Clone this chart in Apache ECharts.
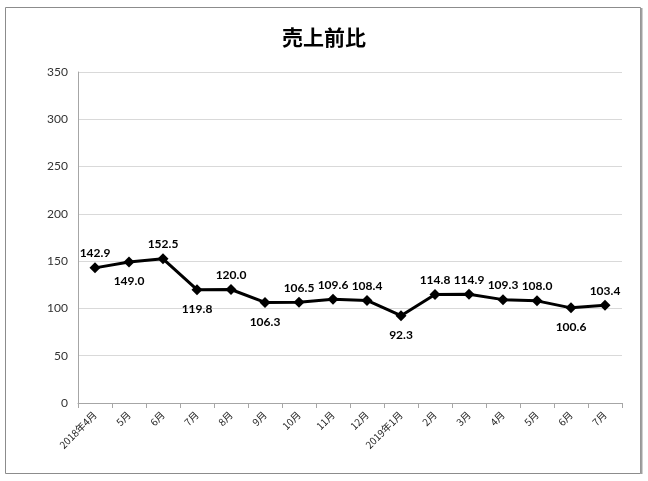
<!DOCTYPE html>
<html><head><meta charset="utf-8">
<script src="https://cdn.jsdelivr.net/npm/echarts@6/dist/echarts.min.js"></script>
<style>html,body{margin:0;padding:0;background:#fff}#c{width:648px;height:481px}</style>
</head><body><div id="c"></div>
<script>
const categories = ['2018年4月','5月','6月','7月','8月','9月','10月','11月','12月','2019年1月','2月','3月','4月','5月','6月','7月'];
const values = [142.9,149.0,152.5,119.8,120.0,106.3,106.5,109.6,108.4,92.3,114.8,114.9,109.3,108.0,100.6,103.4];
const labelPos = ['top','bottom','top','bottom','top','bottom','top','top','top','bottom','top','top','top','top','bottom','top'];
const yTicks = [0,50,100,150,200,250,300,350];

const chart = echarts.init(document.getElementById('c'));
chart.setOption({
  animation:false,
  backgroundColor:'#fff',
  graphic:[{type:'rect',shape:{x:5.5,y:7.5,width:635,height:466},style:{fill:'none',stroke:'#8c8c8c',lineWidth:1}},
           {type:'line',shape:{x1:641.5,y1:8,x2:641.5,y2:474},style:{stroke:'#a0a0a0',lineWidth:2}}],
  title:{text:'売上前比',left:'center',top:22,textStyle:{fontFamily:'Noto Sans CJK JP',fontWeight:'bold',fontSize:21,color:'#000'}},
  grid:{left:78,right:26,top:72,bottom:78},
  xAxis:{type:'category',data:categories,boundaryGap:true,
    axisLine:{lineStyle:{color:'#a6a6a6'}},axisTick:{show:true,alignWithLabel:false,lineStyle:{color:'#a6a6a6'}},
    axisLabel:{rotate:45,interval:0,fontSize:10,color:'#222',fontFamily:'Noto Sans CJK JP',margin:10}},
  yAxis:{type:'value',min:0,max:350,interval:50,
    axisLine:{show:true,lineStyle:{color:'#a6a6a6'}},axisTick:{show:false},
    splitLine:{lineStyle:{color:'#d9d9d9'}},
    axisLabel:{fontSize:12,color:'#333',fontFamily:'Lato',margin:10,formatter:v=>yTicks.includes(v)?String(v):''}},
  series:[{type:'line',data:values.map((v,i)=>({value:v,label:{position:labelPos[i],distance:labelPos[i]==='top'?3:8}})),
    lineStyle:{color:'#000',width:3},itemStyle:{color:'#000'},
    symbol:'diamond',symbolSize:11,
    label:{show:true,formatter:p=>p.value.toFixed(1),fontFamily:'Lato',fontWeight:'bold',fontSize:12,color:'#000'}}]
});
</script></body></html>
